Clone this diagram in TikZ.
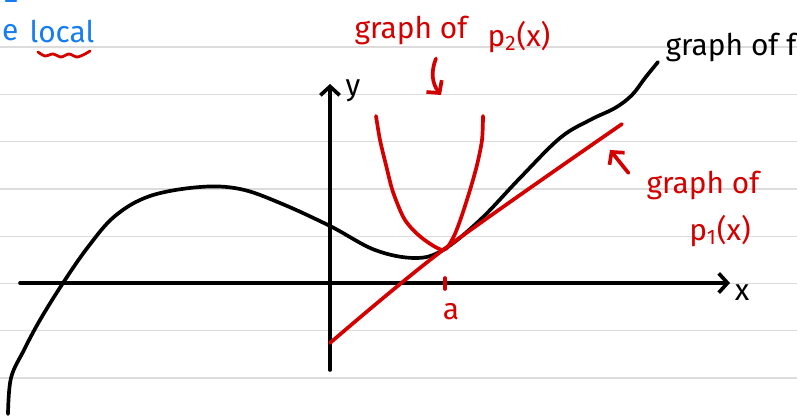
\documentclass[tikz,border=0pt]{standalone}
\usepackage{fontspec}
\setmainfont{Fira Sans}
\usetikzlibrary{arrows.meta,positioning,calc}
\definecolor{inkred}{RGB}{212,0,0}
\definecolor{inkblue}{RGB}{22,125,240}
\definecolor{ruleline}{RGB}{220,220,220}

\begin{document}
\begin{tikzpicture}[x=0.02cm,y=-0.02cm,
  fc/.style={draw=black, line width=2.1pt, line cap=round, line join=round},
  pc/.style={draw=inkred, line width=2.1pt, line cap=round, line join=round},
  lb/.style={font=\fontsize{17}{19}\selectfont, inner sep=1pt},
  >={Straight Barb[length=5pt,width=11pt]}]
  \useasboundingbox (0,0) rectangle (797,418);
  \clip (0,0) rectangle (797,418);
  \fill[white] (0,0) rectangle (797,418);
  \foreach \k in {0,...,7}
    \draw[ruleline, line width=0.7pt] (0,47+47.3*\k) -- (797,47+47.3*\k);

  \coordinate (xl) at (20,283);
  \coordinate (xr) at (730,283);
  \coordinate (yb) at (330,370);
  \coordinate (yt) at (330,84);
  \draw[fc,->] (xl) -- (xr);
  \draw[fc,->] (yb) -- (yt);
  \node[lb] (xlab) at (742,293) {x};
  \node[lb] (ylab) at (353,91) {y};

  \draw[fc] plot[smooth, tension=0.6] coordinates {(8,414) (11,378) (24,350)
    (40,320) (63,283) (88,247) (115,216) (150,196) (200,187) (240,189)
    (280,203) (330,226) (375,250) (415,258) (443,250) (480,220) (520,178) (560,138)
    (590,120) (615,108) (632,95) (645,78) (658,62)};

  \draw[pc] plot[smooth] coordinates {(376,116) (380,140) (386,165) (393,192) (405,220)
    (422,238) (443,250) (453,238) (461,218) (470,190) (477,165) (482,140) (483,116)};
  \draw[pc] plot[smooth] coordinates {(330,343) (443,250) (622,124)};
  \draw[pc] (445,278) -- (445,289);
  \node[lb, text=inkred] (alab) at (451,312) {a};

  \node[lb, text=inkred] (p2a) at (411,30) {graph of};
  \node[lb, text=inkred] (p2b) at (519,37) {p\textsubscript{2}(x)};
  \coordinate (p2tip) at (441,95);
  \draw[pc,->] ($(p2a.south)+(25,12)$) to[bend right=30] (p2tip);

  \node[lb] (flab) at (731,47) {graph of f};

  \node[lb, text=inkred] (p1a) at (703,185) {graph of};
  \node[lb, text=inkred] (p1b) at (720,231) {p\textsubscript{1}(x)};
  \coordinate (p1tip) at (610,150);
  \draw[pc,->] ($(p1a.west)+(-16,-12)$) -- (p1tip);

  \node[lb, text=inkblue] (loc) at (62,31) {local};
  \node[lb, text=inkblue, anchor=west] (frag) at (0,33) {e};
  \draw[inkblue, line width=1.7pt, line cap=round] (6,1) -- (16,1);
  \draw[pc, line width=1.6pt] plot[smooth] coordinates {(38,52) (45,56) (53,54) (61,57)
    (69,54) (77,57) (85,54) (90,51)};
\end{tikzpicture}
\end{document}
